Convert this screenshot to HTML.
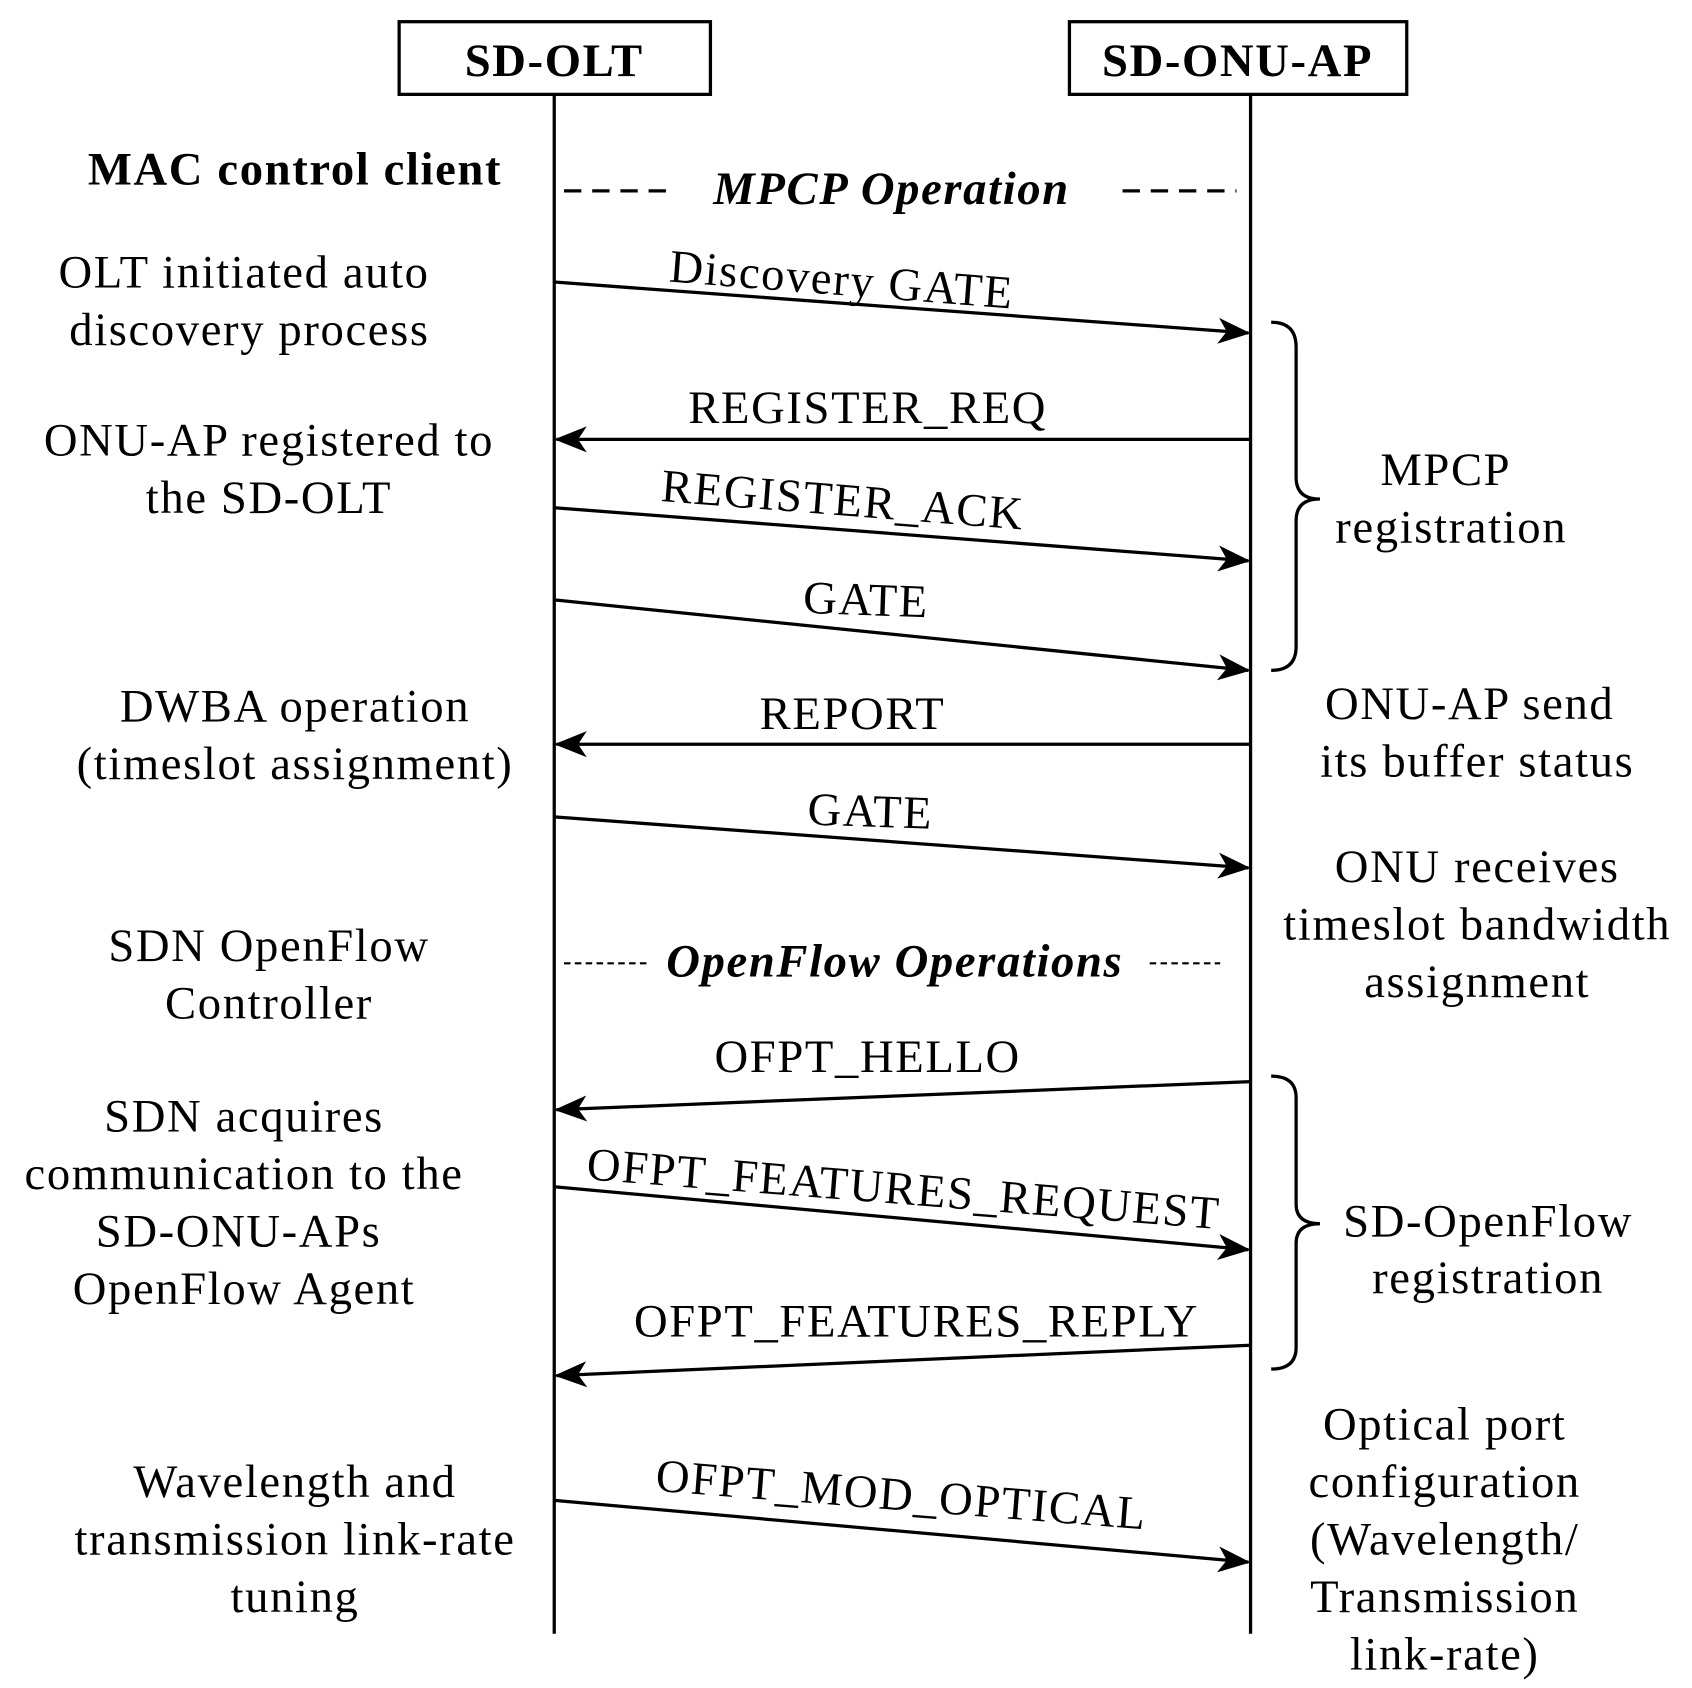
<!DOCTYPE html>
<html><head><meta charset="utf-8"><style>
html,body{margin:0;padding:0;background:#fff;}
svg{display:block;}
text{font-family:"Liberation Serif",serif;font-size:43px;letter-spacing:1.5px;fill:#000;}
</style></head><body>
<svg width="1692" height="1688" viewBox="0 0 1560 1556" preserveAspectRatio="none" xmlns="http://www.w3.org/2000/svg">
<defs>
<marker id="b" markerWidth="30" markerHeight="24" refX="28" refY="12" orient="auto" markerUnits="userSpaceOnUse" viewBox="0 0 30 24">
<path d="M0,0 L30,12 L0,24 L8,12 Z" fill="#000"/>
</marker>
</defs>
<g stroke="#000" stroke-width="3" fill="none">
<rect x="368" y="20" width="287" height="67"/>
<rect x="986" y="20" width="311" height="67"/>
<line x1="511" y1="87" x2="511" y2="1506"/>
<line x1="1153" y1="87" x2="1153" y2="1506"/>
<line x1="520" y1="176" x2="618" y2="176" stroke-dasharray="16,10"/>
<line x1="1035" y1="176" x2="1140" y2="176" stroke-dasharray="16,10"/>
<line x1="520" y1="888" x2="600" y2="888" stroke-dasharray="6,4" stroke-width="2"/>
<line x1="1060" y1="888" x2="1125" y2="888" stroke-dasharray="6,4" stroke-width="2"/>
<g marker-end="url(#b)">
<line x1="511" y1="260" x2="1151" y2="307"/>
<line x1="1153" y1="405" x2="513" y2="405"/>
<line x1="511" y1="468" x2="1151" y2="517"/>
<line x1="511" y1="553" x2="1151" y2="618"/>
<line x1="1153" y1="686" x2="513" y2="686"/>
<line x1="511" y1="753" x2="1151" y2="800"/>
<line x1="1153" y1="997" x2="513" y2="1023"/>
<line x1="511" y1="1094" x2="1151" y2="1152"/>
<line x1="1153" y1="1240" x2="513" y2="1268"/>
<line x1="511" y1="1383" x2="1151" y2="1440"/>
</g>
<path d="M1172,297 Q1195,297 1195,320 L1195,440 Q1195,460 1217,460 Q1195,460 1195,480 L1195,596 Q1195,618 1172,618"/>
<path d="M1172,992 Q1195,992 1195,1012 L1195,1110 Q1195,1128 1217,1128 Q1195,1128 1195,1146 L1195,1242 Q1195,1262 1172,1262"/>
</g>
<g text-anchor="middle">
<text x="511" y="70" font-weight="bold">SD-OLT</text>
<text x="1141" y="70" font-weight="bold">SD-ONU-AP</text>
<text x="272" y="170" font-weight="bold">MAC control client</text>
<text x="822" y="188" font-weight="bold" font-style="italic">MPCP Operation</text>
<text x="825" y="900" font-weight="bold" font-style="italic" font-size="40">OpenFlow Operations</text>

<text transform="translate(775,272) rotate(4.5)">Discovery GATE</text>
<text x="800" y="390">REGISTER_REQ</text>
<text transform="translate(776,475) rotate(4.5)">REGISTER_ACK</text>
<text transform="translate(798,567) rotate(2)">GATE</text>
<text x="786" y="672">REPORT</text>
<text transform="translate(802,762) rotate(2)">GATE</text>
<text x="800" y="988">OFPT_HELLO</text>
<text transform="translate(832,1110) rotate(4.5)">OFPT_FEATURES_REQUEST</text>
<text x="845" y="1232">OFPT_FEATURES_REPLY</text>
<text transform="translate(830,1392) rotate(4.5)">OFPT_MOD_OPTICAL</text>

<text x="225" y="265">OLT initiated auto</text>
<text x="230" y="318">discovery process</text>
<text x="248" y="420">ONU-AP registered to</text>
<text x="248" y="473">the SD-OLT</text>
<text x="272" y="665">DWBA operation</text>
<text x="272" y="718">(timeslot assignment)</text>
<text x="248" y="886">SDN OpenFlow</text>
<text x="248" y="939">Controller</text>
<text x="225" y="1043">SDN acquires</text>
<text x="225" y="1096">communication to the</text>
<text x="220" y="1149">SD-ONU-APs</text>
<text x="225" y="1202">OpenFlow Agent</text>
<text x="272" y="1380">Wavelength and</text>
<text x="272" y="1433">transmission link-rate</text>
<text x="272" y="1486">tuning</text>

<text x="1333" y="447">MPCP</text>
<text x="1338" y="500">registration</text>
<text x="1355" y="663">ONU-AP send</text>
<text x="1362" y="716">its buffer status</text>
<text x="1362" y="813">ONU receives</text>
<text x="1362" y="866">timeslot bandwidth</text>
<text x="1362" y="919">assignment</text>
<text x="1372" y="1140">SD-OpenFlow</text>
<text x="1372" y="1192">registration</text>
<text x="1332" y="1327">Optical port</text>
<text x="1332" y="1380">configuration</text>
<text x="1332" y="1433">(Wavelength/</text>
<text x="1332" y="1486">Transmission</text>
<text x="1332" y="1539">link-rate)</text>
</g>
</svg>
</body></html>
